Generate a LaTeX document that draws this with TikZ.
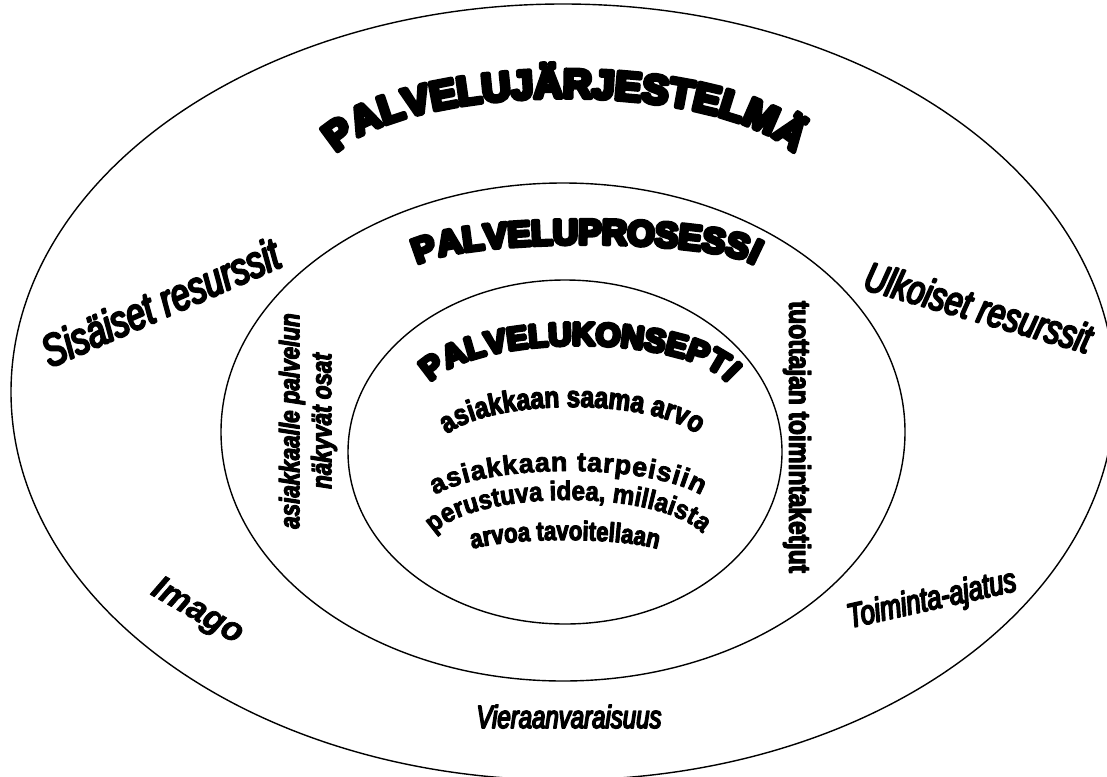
\documentclass[tikz,border=0pt]{standalone}
\usepackage{fontspec}
\setmainfont{Liberation Sans}
\newfontfamily\blackfont[FakeBold=12]{Liberation Sans Bold}
\newfontfamily\narrowit[FakeStretch=0.75,FakeBold=5]{Liberation Sans Italic}
\newfontfamily\narrowbf[FakeStretch=0.82,FakeBold=4]{Liberation Sans Bold}
\newfontfamily\semibf[FakeStretch=0.9,FakeBold=3]{Liberation Sans Bold}
\newfontfamily\plainbf[FakeBold=3]{Liberation Sans Bold}
\newfontfamily\narrowbfit[FakeStretch=0.8,FakeBold=4]{Liberation Sans Bold Italic}
\newfontfamily\boldit[FakeBold=2]{Liberation Sans Bold Italic}
\usetikzlibrary{decorations.text}
\newcommand\fTitleA{\blackfont\fontsize{40}{40}\selectfont}
\newcommand\fTitleB{\blackfont\fontsize{35}{35}\selectfont}
\newcommand\fTitleC{\blackfont\fontsize{32}{32}\selectfont}
\newcommand\fInA{\narrowbf\fontsize{30}{30}\selectfont}
\newcommand\fInB{\plainbf\fontsize{27}{27}\selectfont}
\newcommand\fInC{\semibf\fontsize{27}{27}\selectfont}
\newcommand\fInD{\narrowbf\fontsize{27}{27}\selectfont}
\begin{document}
\begin{tikzpicture}[x=1pt,y=-1pt,
  ring/.style={draw=black, line width=1.4pt},
  lbl/.style={inner sep=0pt, outer sep=0pt}]
\useasboundingbox (0,0) rectangle (1107,776);
\fill[white] (0,0) rectangle (1107,776);
% rings
\begin{scope}
\clip (0,0) rectangle (1107,776);
\draw[ring] (563,392) ellipse [x radius=552, y radius=388];
\end{scope}
\draw[ring] (563,432) ellipse [x radius=342, y radius=249];
\draw[ring] (565,452) ellipse [x radius=217, y radius=172];
\begin{scope}[line join=round, line cap=round, miter limit=1]
% curved titles
\path[decorate, decoration={text along path, text align=center,
  text={|\fTitleA|PALVELUJÄRJESTELMÄ}}]
  (565,177.5) ++(182:240 and 80) arc[start angle=182, end angle=358, x radius=240, y radius=80];
\path[decorate, decoration={text along path, text align=center,
  text={|\fTitleB|PALVELUPROSESSI}}]
  (586,271) ++(182:173 and 27) arc[start angle=182, end angle=358, x radius=173, y radius=27];
\path[decorate, decoration={text along path, text align=center,
  text={|\fTitleC|PALVELUKONSEPTI}}]
  (579,395) ++(182:153 and 50) arc[start angle=182, end angle=358, x radius=153, y radius=50];
% inner curved texts
\path[decorate, decoration={text along path, text align=center,
  text={|\fInA|asiakkaan saama arvo}}]
  (572,449) ++(182:133 and 42) arc[start angle=182, end angle=358, x radius=133, y radius=42];
\path[decorate, decoration={text along path, text align=fit to path,
  text={|\fInB|asiakkaan tarpeisiin}}]
  (568,513) ++(205:147 and 42) arc[start angle=205, end angle=335, x radius=147, y radius=42];
\path[decorate, decoration={text along path, text align=center,
  text={|\fInC|perustuva idea, millaista}}]
  (568,547) ++(182:140 and 47) arc[start angle=182, end angle=358, x radius=140, y radius=47];
\path[decorate, decoration={text along path, text align=center,
  text={|\fInD|arvoa tavoitellaan}}]
  (565,557) ++(182:105 and 17) arc[start angle=182, end angle=358, x radius=105, y radius=17];
% straight labels
\node[lbl, rotate=23.6, anchor=base west, font=\narrowit\fontsize{45}{45}\selectfont]
  (sis) at (50,368) {Sisäiset resurssit};
\node[lbl, rotate=-16, anchor=base west, font=\narrowit\fontsize{41}{41}\selectfont]
  (ulk) at (862,289) {Ulkoiset resurssit};
\node[lbl, rotate=90, align=center, font=\narrowbfit\fontsize{28}{32}\selectfont]
  (asi) at (308,421) {asiakkaalle palvelun\\näkyvät osat};
\node[lbl, rotate=-90, font=\narrowbf\fontsize{30}{30}\selectfont]
  (tuo) at (797,437) {tuottajan toimintaketjut};
\node[lbl, rotate=-30, font=\boldit\fontsize{34}{34}\selectfont]
  (ima) at (197,612) {Imago};
\node[lbl, rotate=12.6, anchor=base west, font=\narrowit\fontsize{34}{34}\selectfont]
  (toi) at (850,628) {Toiminta-ajatus};
\node[lbl, anchor=base, font=\narrowit\fontsize{32}{32}\selectfont]
  (vie) at (569,728) {Vieraanvaraisuus};
\end{scope}
\end{tikzpicture}
\end{document}
